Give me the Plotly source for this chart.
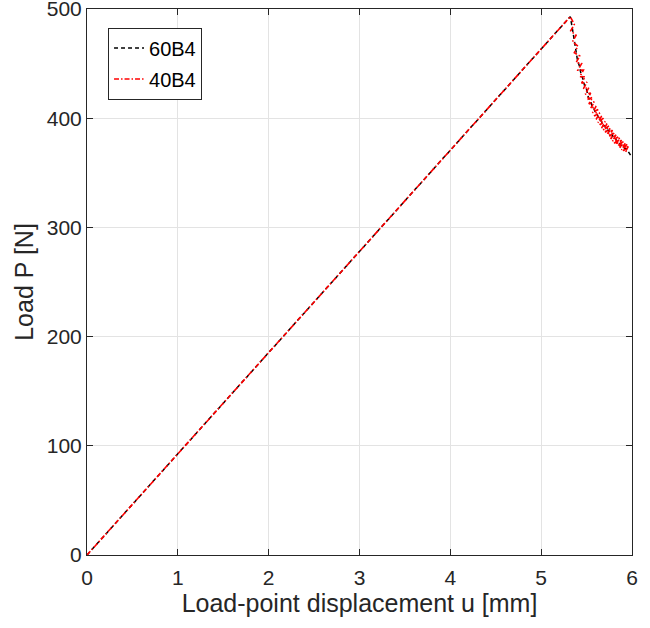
import plotly.graph_objects as go

# 60B4 (black dashed)
u_60 = [0.0, 1.0, 2.0, 3.0, 4.0, 5.0, 5.32,
        5.34, 5.36, 5.38, 5.40, 5.42, 5.44, 5.46, 5.48, 5.50, 5.52, 5.54, 5.56, 5.58, 5.60,
        5.62, 5.64, 5.66, 5.68, 5.70, 5.72, 5.74, 5.76, 5.78, 5.80, 5.82, 5.84, 5.86, 5.88,
        5.90, 5.92, 5.94, 5.96, 5.98, 6.00]
P_60 = [0.0, 92.7, 185.4, 278.0, 370.7, 463.4, 493.0,
        484, 472, 464, 453, 448, 440, 436, 429, 426, 419, 417, 411, 409, 404,
        403, 398, 398, 393, 393, 389, 389, 385, 385, 381, 381, 378, 378, 375,
        375, 372, 372, 369, 367, 364]

# 40B4 (red dash-dot, noisy softening branch)
u_40 = [0.0, 1.0, 2.0, 3.0, 4.0, 5.0, 5.32,
        5.365, 5.325, 5.385, 5.345, 5.405, 5.365, 5.425, 5.385, 5.445, 5.405,
        5.465, 5.425, 5.485, 5.445, 5.505, 5.465, 5.525, 5.485, 5.545, 5.505,
        5.565, 5.525, 5.585, 5.545, 5.605, 5.565, 5.625, 5.585, 5.645, 5.605,
        5.665, 5.625, 5.685, 5.645, 5.705, 5.665, 5.725, 5.685, 5.745, 5.705,
        5.765, 5.725, 5.785, 5.745, 5.805, 5.765, 5.825, 5.785, 5.845, 5.805,
        5.865, 5.825, 5.885, 5.845, 5.905, 5.865, 5.925, 5.885, 5.945, 5.905,
        5.965, 5.925, 5.95]
P_40 = [0.0, 92.7, 185.4, 278.0, 370.7, 463.4, 493.0,
        486, 480, 476, 470, 466, 460, 457, 451, 450, 444,
        444, 438, 438, 432, 433, 427, 428, 422, 423, 417,
        419, 413, 415, 409, 411, 405, 408, 402, 405, 399,
        402, 396, 400, 394, 397, 391, 395, 389, 393, 387,
        391, 385, 389, 383, 387, 381, 385, 379, 383, 377,
        382, 376, 380, 374, 379, 373, 377, 371, 376, 370,
        375, 369, 371]

x_ticks = [0, 1, 2, 3, 4, 5, 6]
y_ticks = [0, 100, 200, 300, 400, 500]

fig = go.Figure()
fig.add_trace(go.Scatter(x=u_60, y=P_60, mode="lines", name="60B4", legendgroup="a",
                         line=dict(color="black", width=1.5, dash="4px,3px")))
fig.add_trace(go.Scatter(x=u_40, y=P_40, mode="lines", name="40B4", legendgroup="b",
                         line=dict(color="red", width=1.6, dash="5px,2px,1.5px,2px")))

FONT = "Liberation Sans, Arial, sans-serif"
axis_common = dict(showline=True, linecolor="#262626", linewidth=1, mirror="ticks",
                   ticks="inside", ticklen=6, tickcolor="#262626", automargin=False,
                   ticklabeloverflow="allow",
                   showgrid=True, gridcolor="#e3e3e3", gridwidth=1, zeroline=False,
                   tickfont=dict(family=FONT, size=21, color="#262626"),
                   title_font=dict(family=FONT, size=25, color="#262626"))

fig.update_layout(
    width=650, height=628,
    margin=dict(l=87, r=18, t=9, b=73),
    paper_bgcolor="white", plot_bgcolor="white",
    xaxis=dict(range=[0, 6], tickvals=x_ticks, ticklabelstandoff=4,
               title=dict(text="Load-point displacement u [mm]", standoff=6),
               **axis_common),
    yaxis=dict(range=[0, 500], tickvals=y_ticks,
               title=dict(text="Load P [N]", standoff=6),
               **axis_common),
    legend=dict(x=0.0386, y=0.966, xanchor="left", yanchor="top",
                bgcolor="white", bordercolor="#262626", borderwidth=1,
                font=dict(family=FONT, size=20, color="black"),
                itemwidth=30, tracegroupgap=2, traceorder="grouped"),
    showlegend=True,
)

fig.write_html("out.html", config={"displayModeBar": False},
               post_script="document.body.style.margin='0';document.body.style.overflow='hidden';")
